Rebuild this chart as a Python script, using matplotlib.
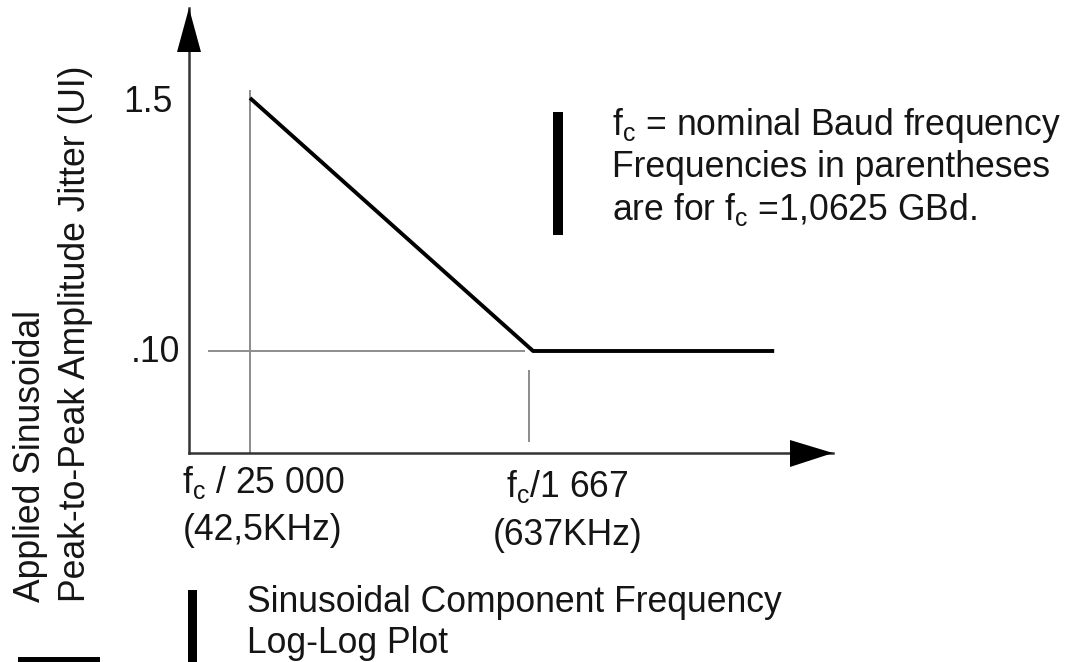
import matplotlib
matplotlib.use("Agg")
import matplotlib.pyplot as plt
from matplotlib.patches import Polygon, Rectangle
from matplotlib.transforms import Affine2D

# ---- data (log-log jitter tolerance mask) ----
fc_hz = 1.0625e9
freq_hz = [fc_hz / 25000, fc_hz / 1667, 6.4e6]   # 42.5 kHz, 637 kHz, end of flat part
jitter_ui = [1.5, 0.10, 0.10]
ytick_labels = ["1.5", ".10"]
xtick_labels = [r"f$_{\rm c}$ / 25 000", r"f$_{\rm c}$/1 667"]
xtick_sub = ["(42,5KHz)", "(637KHz)"]
note_lines = [r"f$_{\rm c}$ = nominal Baud frequency",
              "Frequencies in parentheses",
              r"are for f$_{\rm c}$ =1,0625 GBd."]
xlabel_lines = ["Sinusoidal Component Frequency", "Log-Log Plot"]
ylabel_lines = ["Applied Sinusoidal", "Peak-to-Peak Amplitude Jitter (UI)"]

plt.rcParams["font.family"] = ["Liberation Sans", "DejaVu Sans"]
plt.rcParams["mathtext.fontset"] = "custom"
plt.rcParams["mathtext.rm"] = "Liberation Sans"
plt.rcParams["mathtext.it"] = "Liberation Sans"
plt.rcParams["mathtext.bf"] = "Liberation Sans:bold"

W, H = 1066, 662
fig = plt.figure(figsize=(W / 100, H / 100), dpi=100)
pix = Affine2D().scale(1 / W, -1 / H).translate(0, 1) + fig.transFigure

# axes box in pixels: x 189..833, y 8..453
ax = fig.add_axes([189 / W, 1 - 453 / H, (833 - 189) / W, (453 - 8) / H])
ax.set_xscale("log")
ax.set_yscale("log")
ax.set_xlim(10 ** 4.375, 10 ** 7.0505)
ax.set_ylim(10 ** -1.4742, 10 ** 0.5945)
ax.set_xticks([])
ax.set_yticks([])
ax.minorticks_off()
ax.tick_params(which="both", length=0, labelbottom=False, labelleft=False)
for s in ["top", "right"]:
    ax.spines[s].set_visible(False)
for s in ["left", "bottom"]:
    ax.spines[s].set_color("#333333")
    ax.spines[s].set_linewidth(1.8)
ax.patch.set_visible(False)

gray = "#8c8c8c"
# reference lines
ax.vlines(freq_hz[0], ax.get_ylim()[0], 1.63, color=gray, lw=1.4)
ax.hlines(jitter_ui[1], 28.4e3, 590e3, color=gray, lw=1.4)
ax.vlines(613e3, 0.0378, 0.0816, color=gray, lw=1.4)

# mask curve
ax.plot(freq_hz, jitter_ui, color="black", lw=2.8, solid_capstyle="butt")

# arrow heads
fig.add_artist(Polygon([(177, 52), (201, 52), (189, 8)], closed=True,
                       facecolor="black", edgecolor="none", transform=pix))
fig.add_artist(Polygon([(790, 440), (790, 467), (833, 453)], closed=True,
                       facecolor="black", edgecolor="none", transform=pix))

# black bars
fig.add_artist(Rectangle((553, 112), 10, 123, facecolor="black", edgecolor="none", transform=pix))
fig.add_artist(Rectangle((188, 590), 9, 80, facecolor="black", edgecolor="none", transform=pix))
fig.add_artist(Rectangle((18, 657), 82, 10, facecolor="black", edgecolor="none", transform=pix))

fs = 25.6
tc = "#151515"
# y tick labels
fig.text(173, 112, ytick_labels[0], transform=pix, ha="right", va="baseline", fontsize=fs, color=tc)
fig.text(180, 362, ytick_labels[1], transform=pix, ha="right", va="baseline", fontsize=fs, color=tc)

# x tick labels
fig.text(263, 493, xtick_labels[0], transform=pix, ha="center", va="baseline", fontsize=fs, color=tc)
fig.text(263, 540, xtick_sub[0], transform=pix, ha="center", va="baseline", fontsize=fs, color=tc)
fig.text(567, 497, xtick_labels[1], transform=pix, ha="center", va="baseline", fontsize=fs, color=tc)
fig.text(568, 545, xtick_sub[1], transform=pix, ha="center", va="baseline", fontsize=fs, color=tc)

# note
for line, yb in zip(note_lines, [135, 177, 220]):
    fig.text(612, yb, line, transform=pix, ha="left", va="baseline", fontsize=fs, color=tc)

# x label
for line, yb in zip(xlabel_lines, [612, 653]):
    fig.text(247, yb, line, transform=pix, ha="left", va="baseline", fontsize=fs, color=tc)

# y label
for line, xb in zip(ylabel_lines, [40, 85]):
    fig.text(xb, 602, line, transform=pix, ha="left", va="baseline", rotation=90,
             rotation_mode="anchor", fontsize=fs, color=tc)

fig.savefig("out.png", dpi=100)
